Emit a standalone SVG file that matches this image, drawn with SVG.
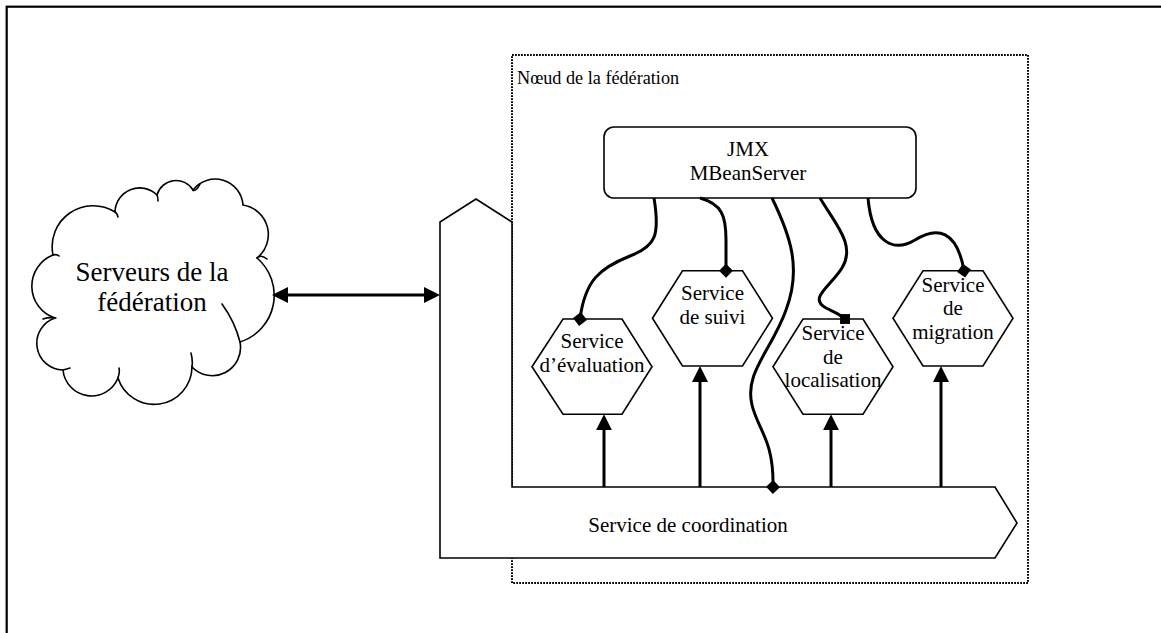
<svg xmlns="http://www.w3.org/2000/svg" width="1161" height="633" viewBox="0 0 1161 633">
  <style>
    .frame { fill: none; stroke: #000; stroke-width: 2.2; }
    .outline { fill: #fff; stroke: #000; stroke-width: 1.6; }
    .dotted { fill: none; stroke: #000; stroke-width: 2; stroke-dasharray: 1.8 1.2; }
    .thin { fill: none; stroke: #000; stroke-width: 1.6; stroke-linecap: round; }
    .link { fill: none; stroke: #000; stroke-width: 3; }
    .lbl { font-family: "Liberation Serif", "Times New Roman", serif; fill: #000; }
    .t21 { font-size: 21px; text-anchor: middle; }
  </style>
  <defs>
    <marker id="arrow" markerUnits="userSpaceOnUse" markerWidth="16" markerHeight="16" refX="6" refY="8" orient="auto-start-reverse" viewBox="0 0 16 16">
      <path d="M0,0 L16,8 L0,16 z" fill="#000"/>
    </marker>
    <marker id="diamond" markerUnits="userSpaceOnUse" markerWidth="14" markerHeight="14" refX="7" refY="7" orient="auto" viewBox="0 0 14 14">
      <path d="M0,7 L7,0 L14,7 L7,14 z" fill="#000"/>
    </marker>
  </defs>

  <!-- page frame -->
  <rect class="frame" x="6.7" y="6.7" width="1200" height="700"/>

  <!-- federation node boundary -->
  <g id="noeud">
    <rect class="dotted" x="512" y="55" width="516" height="528"/>
    <text class="lbl" x="517" y="84" font-size="18.2">Nœud de la fédération</text>
  </g>

  <!-- coordination service -->
  <g id="coordination">
    <path class="outline" d="M440,558 L440,222 L476,199 L512,222 L512,487 L995,487 L1017,523 L995,558 Z"/>
    <text class="lbl t21" x="688" y="532">Service de coordination</text>
  </g>

  <!-- federation servers cloud -->
  <g id="serveurs">
    <path class="outline" d="M53,255
      A41,41 0 0 1 115,212
      A24.7,24.7 0 0 1 157,195
      A19.8,19.8 0 0 1 193,190
      A27.9,27.9 0 0 1 243,205
      A29.9,29.9 0 0 1 257,258
      A49,49 0 0 1 240,342
      A28.2,28.2 0 0 1 192,367
      A37.9,37.9 0 0 1 118,378
      A28.6,28.6 0 0 1 63,370
      A26.7,26.7 0 0 1 55,318
      A33.5,33.5 0 0 1 53,255 Z"/>
    <path class="thin" d="M53,255 q4,-1 6,1 M115,212 q2,1 3,5 M157,195 q1,2 1,6 M193,190 q3,2 7,-6 M257,258 q4,-4 10,1 M240,342 q-5,-20 -18,-38 M192,367 q1,-6 -1,-14 M118,378 q2,-6 1,-10 M63,370 q4,-1 7,-2 M55,318 q-6,-1 -12,1"/>
    <text class="lbl" x="152" y="281" font-size="27" text-anchor="middle">Serveurs de la<tspan x="152" dy="30">fédération</tspan></text>
  </g>

  <!-- JMX MBean server -->
  <g id="mbeanserver">
    <rect class="outline" x="604" y="127" width="312" height="71" rx="10" ry="10"/>
    <text class="lbl t21" x="748" y="156">JMX<tspan x="748" dy="24">MBeanServer</tspan></text>
  </g>

  <!-- services -->
  <g id="evaluation">
    <polygon class="outline" points="532,366.7 563,319 622,319 652,366.7 622,414.3 563,414.3"/>
    <text class="lbl t21" x="592" y="348">Service<tspan x="592" dy="24">d’évaluation</tspan></text>
  </g>
  <g id="suivi">
    <polygon class="outline" points="652.5,318.3 682.5,270.7 742.5,270.7 772.5,318.3 742.5,366 682.5,366"/>
    <text class="lbl t21" x="712.5" y="300">Service<tspan x="712.5" dy="24">de suivi</tspan></text>
  </g>
  <g id="localisation">
    <polygon class="outline" points="773,366.7 803,319 863,319 893,366.7 863,414.3 803,414.3"/>
    <text class="lbl t21" x="833" y="340">Service<tspan x="833" dy="23.5">de</tspan><tspan x="833" dy="23.5">localisation</tspan></text>
  </g>
  <g id="migration">
    <polygon class="outline" points="893,318.3 923,270.7 983,270.7 1013,318.3 983,366 923,366"/>
    <text class="lbl t21" x="953" y="291.5">Service<tspan x="953" dy="23.5">de</tspan><tspan x="953" dy="23.5">migration</tspan></text>
  </g>

  <!-- connectors -->
  <g id="connectors">
    <line class="link" x1="282" y1="295" x2="430" y2="295" marker-start="url(#arrow)" marker-end="url(#arrow)"/>

    <line class="link" x1="604" y1="487" x2="604" y2="424.3" marker-end="url(#arrow)"/>
    <line class="link" x1="700" y1="487" x2="700" y2="376" marker-end="url(#arrow)"/>
    <line class="link" x1="831" y1="487" x2="831" y2="424.3" marker-end="url(#arrow)"/>
    <line class="link" x1="941" y1="487" x2="941" y2="376" marker-end="url(#arrow)"/>

    <path class="link" d="M654,198 C660,235 656,246 630,256 C600,268 585,280 580,319" marker-end="url(#diamond)"/>
    <path class="link" d="M700,198 C722,204 726,216 726,240 L726,270.7" marker-end="url(#diamond)"/>
    <path class="link" d="M772,198 C790,235 802,268 786,310 C772,350 744,372 752,405 C758,430 774,440 773,487" marker-end="url(#diamond)"/>
    <path class="link" d="M820,198 C836,225 856,245 842,268 C830,287 808,298 826,308 C834,312 840,314 845,319" marker-end="url(#diamond)"/>
    <path class="link" d="M868,198 C872,245 895,252 915,240 C937,226 957,230 964,270.7" marker-end="url(#diamond)"/>
  </g>
</svg>
